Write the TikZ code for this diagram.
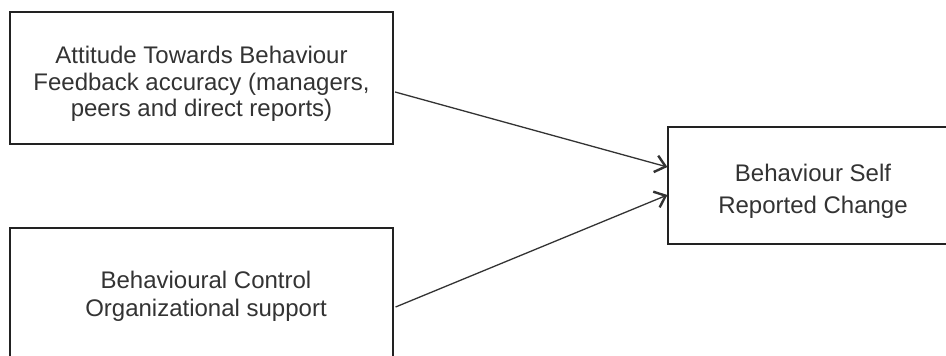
\documentclass[tikz,border=0pt]{standalone}
\usepackage{fontspec}
\setmainfont{Liberation Sans}
\usetikzlibrary{arrows.meta}
\definecolor{txtgray}{HTML}{333333}
\definecolor{linegray}{HTML}{222222}
\begin{document}
\begin{tikzpicture}[x=1pt,y=-1pt,
  box/.style={draw=linegray, line width=1.2pt, rectangle, inner sep=0pt},
  txt/.style={text=txtgray, align=center, inner sep=0pt, font=\fontsize{24}{26.5}\selectfont},
  conn/.style={draw=txtgray, line width=1.3pt, -{Straight Barb[length=10pt,width=17pt,line width=2.4pt]}}]
\path[use as bounding box, clip] (0,0) rectangle (946,356);
\fill[white] (0,0) rectangle (946,356);
\node[box, minimum width=383pt, minimum height=132pt] (b1) at (201.5,78) {};
\node[box, minimum width=383pt, minimum height=134pt] (b2) at (201.5,295) {};
\node[box, minimum width=300pt, minimum height=117pt] (b3) at (818,185.5) {};
\node[txt] (t1) at (201.5,84.2) {Attitude Towards Behaviour\\Feedback accuracy (managers,\\peers and direct reports)};
\node[txt, font=\fontsize{24}{27.7}\selectfont] (t2) at (206,296.6) {Behavioural Control\\Organizational support};
\node[txt, font=\fontsize{24}{31.6}\selectfont] (t3) at (813,191.3) {Behaviour Self\\Reported Change};
\draw[conn] ([xshift=1.5pt,yshift=-14pt]b1.east) -- ([yshift=18.5pt]b3.west);
\draw[conn] ([xshift=2pt,yshift=-12pt]b2.east) -- ([yshift=-9.5pt]b3.west);
\end{tikzpicture}
\end{document}
